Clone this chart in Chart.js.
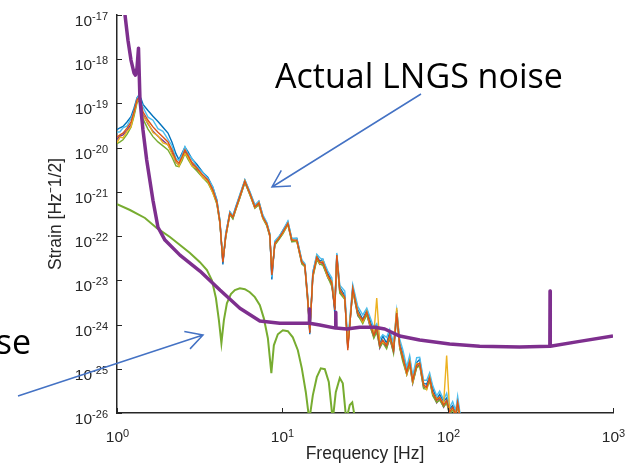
<!DOCTYPE html>
<html>
<head>
<meta charset="utf-8">
<script src="https://cdn.jsdelivr.net/npm/chart.js@4.4.0/dist/chart.umd.min.js"></script>
<style>
  html, body { margin: 0; padding: 0; background: #fff; }
  canvas { display: block; }
</style>
</head>
<body>
<canvas id="myChart" width="640" height="465"></canvas>
<script>
// decades shown on the axes
const xTickExps = [0, 1, 2, 3];
const yTickExps = [-26, -25, -24, -23, -22, -21, -20, -19, -18, -17];

// sensitivity curve (purple), frequency in Hz, log10 of strain
const sensFreq = [1.072, 1.118, 1.165, 1.215, 1.267, 1.294, 1.321, 1.349, 1.377, 1.436,
  1.512, 1.650, 1.769, 1.950, 2.403, 3.174, 4.193, 5.536, 7.311, 9.658,
  12.76, 14.50, 14.56, 14.62, 16.85, 20.98, 21.05, 21.12, 24.53, 29.39,
  36.22, 41.63, 51.29, 67.74, 102.8, 156.1, 272.3, 415.0, 416.2, 417.4,
  627.8, 1000];
const sensLog = [-16.43, -17.00, -17.57, -18.02, -18.31, -18.36, -18.20, -17.75, -18.92, -19.60,
  -20.28, -21.19, -21.80, -22.09, -22.43, -22.79, -23.22, -23.63, -23.92, -23.97,
  -23.97, -23.97, -23.65, -23.97, -24.01, -24.08, -23.72, -24.08, -24.10, -24.06,
  -24.06, -24.10, -24.26, -24.35, -24.44, -24.49, -24.51, -24.49, -23.24, -24.49,
  -24.38, -24.26];

// green curve
const nnFreq = [1.000, 1.198, 1.476, 1.745, 2.090, 2.403, 2.762, 3.174, 3.499, 3.750,
  3.965, 4.133, 4.280, 4.431, 4.620, 4.885, 5.164, 5.536, 5.935, 6.363,
  6.822, 7.311, 7.731, 8.176, 8.581, 8.885, 9.393, 10.07, 10.80, 11.57,
  12.41, 13.12, 13.87, 14.56, 15.29, 16.16, 17.09, 18.07, 19.10, 20.18,
  21.05, 22.26, 23.21, 24.36, 25.58, 26.48, 27.61];
const nnLog = [-21.28, -21.41, -21.59, -21.82, -22.02, -22.20, -22.38, -22.59, -22.77, -23.00,
  -23.40, -23.90, -24.42, -23.90, -23.52, -23.31, -23.22, -23.18, -23.20, -23.27,
  -23.38, -23.56, -23.86, -24.31, -25.10, -24.47, -24.22, -24.13, -24.15, -24.29,
  -24.58, -24.99, -25.53, -26.16, -25.60, -25.19, -24.99, -25.01, -25.30, -26.16,
  -25.53, -25.21, -25.33, -26.16, -25.82, -25.76, -26.16];

// measured LNGS noise runs, shared frequency grid
const lngsFreq = [1.000, 1.043, 1.087, 1.149, 1.215, 1.267, 1.321, 1.358, 1.397, 1.436,
  1.539, 1.650, 1.769, 1.896, 2.034, 2.148, 2.274, 2.370, 2.471, 2.576,
  2.685, 2.837, 3.044, 3.308, 3.547, 3.803, 4.020, 4.193, 4.370, 4.549,
  4.818, 5.022, 5.236, 5.536, 5.935, 6.363, 6.822, 7.211, 7.624, 8.059,
  8.403, 8.641, 9.010, 9.526, 10.07, 10.80, 11.41, 12.24, 13.12, 13.68,
  14.26, 14.66, 15.29, 16.16, 16.85, 17.57, 18.84, 19.91, 20.76, 21.35,
  22.26, 23.86, 24.88, 26.67, 28.59, 30.65, 32.42, 33.79, 35.77, 37.24,
  38.85, 40.49, 42.73, 44.63, 47.05, 49.19, 51.29, 53.48, 56.56, 58.90,
  61.44, 64.94, 67.74, 71.56, 74.66, 77.79, 81.19, 85.85, 89.47, 94.52,
  98.6, 102.8, 107.2, 111.8, 114.9, 119.5];

const runOrange = [-19.76, -19.71, -19.67, -19.56, -19.42, -19.19, -18.92, -18.86, -18.99, -19.19,
  -19.38, -19.53, -19.65, -19.76, -19.87, -20.05, -20.28, -20.35, -20.21, -20.05,
  -20.17, -20.33, -20.46, -20.62, -20.73, -20.96, -21.23, -21.68, -22.59, -21.98,
  -21.48, -21.57, -21.37, -21.10, -20.76, -21.03, -21.34, -21.25, -21.57, -21.73,
  -21.98, -22.88, -22.16, -22.05, -21.91, -21.71, -22.09, -22.09, -22.59, -22.66,
  -23.45, -24.19, -22.88, -22.48, -22.59, -22.59, -22.88, -23.06, -23.67, -22.43,
  -23.22, -23.38, -24.58, -23.18, -23.74, -23.90, -23.72, -23.95, -24.24, -24.08,
  -24.47, -24.35, -24.47, -24.24, -24.58, -23.74, -24.47, -24.74, -25.08, -24.85,
  -25.26, -24.92, -24.87, -25.37, -25.42, -25.21, -25.53, -25.71, -25.64, -25.82,
  -25.71, -25.98, -25.87, -26.05, -25.76, -26.16];
const runYellow = [-19.89, -19.76, -19.78, -19.63, -19.53, -19.23, -18.96, -18.91, -19.02, -19.29,
  -19.44, -19.66, -19.73, -19.89, -19.93, -20.15, -20.31, -20.42, -20.25, -20.13,
  -20.21, -20.41, -20.47, -20.68, -20.76, -21.03, -21.24, -21.69, -22.57, -22.00,
  -21.49, -21.56, -21.39, -21.11, -20.75, -21.05, -21.35, -21.24, -21.59, -21.74,
  -21.97, -22.83, -22.17, -22.04, -21.93, -21.72, -22.08, -22.11, -22.58, -22.67,
  -23.42, -24.13, -22.90, -22.47, -22.62, -22.57, -22.92, -23.03, -23.59, -22.45,
  -23.20, -23.41, -24.48, -23.20, -23.71, -23.94, -23.70, -23.98, -24.20, -23.40,
  -24.44, -24.40, -24.45, -24.27, -24.54, -23.62, -24.49, -24.71, -25.12, -24.83,
  -25.29, -24.88, -24.89, -25.34, -25.47, -25.19, -25.56, -25.67, -25.66, -25.79,
  -24.70, -25.96, -25.90, -26.01, -25.78, -26.13];
const runLightBlue = [-19.65, -19.64, -19.55, -19.51, -19.34, -19.18, -18.90, -18.81, -18.96, -19.08,
  -19.31, -19.38, -19.57, -19.63, -19.81, -19.95, -20.25, -20.28, -20.17, -19.98,
  -20.14, -20.24, -20.44, -20.56, -20.70, -20.89, -21.21, -21.64, -22.57, -21.93,
  -21.46, -21.53, -21.34, -21.06, -20.73, -20.99, -21.29, -21.22, -21.52, -21.69,
  -21.95, -22.93, -22.11, -22.01, -21.88, -21.66, -22.05, -22.06, -22.54, -22.62,
  -23.37, -24.14, -22.82, -22.41, -22.49, -22.53, -22.79, -22.94, -23.57, -22.38,
  -23.11, -23.24, -24.38, -23.10, -23.59, -23.78, -23.63, -23.81, -24.07, -23.98,
  -24.32, -24.23, -24.29, -24.11, -24.42, -23.68, -24.33, -24.56, -24.96, -24.70,
  -25.16, -24.75, -24.74, -25.26, -25.26, -25.09, -25.38, -25.61, -25.50, -25.70,
  -25.55, -25.87, -25.74, -25.95, -25.62, -26.08];
const runBlue = [-19.59, -19.55, -19.52, -19.42, -19.30, -19.11, -18.87, -18.81, -18.89, -19.02,
  -19.16, -19.29, -19.41, -19.54, -19.67, -19.87, -20.14, -20.27, -20.13, -19.99,
  -20.09, -20.25, -20.38, -20.56, -20.67, -20.90, -21.18, -21.65, -22.64, -21.95,
  -21.45, -21.55, -21.33, -21.07, -20.73, -21.01, -21.31, -21.21, -21.54, -21.71,
  -21.95, -22.98, -22.13, -22.02, -21.87, -21.68, -22.06, -22.05, -22.56, -22.64,
  -23.40, -24.22, -22.82, -22.44, -22.57, -22.52, -22.85, -23.01, -23.73, -22.41,
  -23.16, -23.34, -24.48, -23.15, -23.66, -23.88, -23.67, -23.88, -24.20, -24.02,
  -24.44, -24.26, -24.42, -24.16, -24.56, -23.67, -24.42, -24.64, -25.04, -24.76,
  -25.23, -24.86, -24.79, -25.33, -25.35, -25.16, -25.44, -25.68, -25.58, -25.74,
  -25.66, -25.91, -25.83, -25.99, -25.71, -26.13];
const runGreen = [-19.91, -19.87, -19.82, -19.70, -19.54, -19.29, -18.99, -18.92, -19.09, -19.35,
  -19.58, -19.75, -19.87, -19.96, -20.05, -20.21, -20.41, -20.43, -20.30, -20.13,
  -20.26, -20.41, -20.53, -20.68, -20.80, -21.02, -21.28, -21.72, -22.56, -22.02,
  -21.51, -21.61, -21.40, -21.14, -20.79, -21.07, -21.37, -21.29, -21.60, -21.77,
  -22.01, -22.84, -22.20, -22.08, -21.95, -21.74, -22.13, -22.12, -22.63, -22.69,
  -23.51, -24.15, -22.93, -22.54, -22.63, -22.66, -22.93, -23.14, -23.62, -22.49,
  -23.29, -23.43, -24.50, -23.24, -23.78, -23.98, -23.78, -24.00, -24.31, -24.17,
  -24.51, -24.41, -24.55, -24.29, -24.65, -23.78, -24.53, -24.83, -25.13, -24.92,
  -25.32, -24.98, -24.93, -25.45, -25.46, -25.27, -25.61, -25.76, -25.71, -25.86,
  -25.77, -26.04, -25.92, -26.12, -25.81, -26.23];
const runPurple = [-19.81, -19.74, -19.71, -19.61, -19.48, -19.24, -18.95, -18.88, -19.03, -19.25,
  -19.46, -19.63, -19.74, -19.84, -19.94, -20.11, -20.33, -20.39, -20.26, -20.09,
  -20.20, -20.38, -20.50, -20.67, -20.76, -21.00, -21.26, -21.70, -22.59, -22.01,
  -21.50, -21.60, -21.39, -21.13, -20.78, -21.06, -21.36, -21.28, -21.59, -21.76,
  -22.00, -22.86, -22.19, -22.07, -21.94, -21.73, -22.12, -22.11, -22.62, -22.68,
  -23.48, -24.17, -22.92, -22.50, -22.64, -22.62, -22.94, -23.08, -23.64, -22.47,
  -23.27, -23.41, -24.53, -23.22, -23.80, -23.93, -23.77, -24.02, -24.28, -24.10,
  -24.53, -24.38, -24.52, -24.32, -24.62, -23.76, -24.53, -24.77, -25.13, -24.89,
  -25.33, -24.95, -24.92, -25.43, -25.39, -25.26, -25.57, -25.77, -25.67, -25.87,
  -25.75, -26.04, -25.90, -26.10, -25.80, -26.22];

const axisColor = '#262626';
const tickFont = '"Liberation Sans", Arial, sans-serif';

function toPoints(freqs, logs) {
  return freqs.map((f, i) => ({ x: f, y: Math.pow(10, logs[i]) }));
}

function noiseRun(label, values, color) {
  return {
    label: label,
    data: toPoints(lngsFreq, values),
    borderColor: color,
    borderWidth: 1.4,
    pointRadius: 0,
    fill: false,
    clip: 0
  };
}

// 10 with a raised exponent
function drawPow(ctx, exp, x, y, align) {
  ctx.font = '15.5px ' + tickFont;
  const bw = ctx.measureText('10').width;
  ctx.font = '11px ' + tickFont;
  const ew = ctx.measureText(exp).width;
  const x0 = align === 'right' ? x - bw - ew : x - (bw + ew) / 2;
  ctx.textAlign = 'left';
  ctx.textBaseline = 'alphabetic';
  ctx.font = '15.5px ' + tickFont;
  ctx.fillText('10', x0, y);
  ctx.font = '11px ' + tickFont;
  ctx.fillText(exp, x0 + bw, y - 5.5);
}

function arrow(ctx, x1, y1, x2, y2) {
  const a = Math.atan2(y2 - y1, x2 - x1);
  const len = 19;
  ctx.beginPath();
  ctx.moveTo(x1, y1);
  ctx.lineTo(x2, y2);
  ctx.moveTo(x2 - len * Math.cos(a - 0.5), y2 - len * Math.sin(a - 0.5));
  ctx.lineTo(x2, y2);
  ctx.lineTo(x2 - len * Math.cos(a + 0.5), y2 - len * Math.sin(a + 0.5));
  ctx.stroke();
}

const decor = {
  id: 'decor',
  afterDraw(chart) {
    const { ctx, chartArea: area, scales: { x, y } } = chart;
    ctx.save();
    ctx.strokeStyle = axisColor;
    ctx.fillStyle = axisColor;
    ctx.lineWidth = 1;

    yTickExps.forEach(e => {
      const py = Math.round(y.getPixelForValue(Math.pow(10, e))) + 0.5;
      ctx.beginPath();
      ctx.moveTo(area.left, py);
      ctx.lineTo(area.left + 5, py);
      ctx.stroke();
      drawPow(ctx, String(e), area.left - 9, py + 10, 'right');
    });

    xTickExps.forEach(e => {
      const px = Math.round(x.getPixelForValue(Math.pow(10, e))) + 0.5;
      ctx.beginPath();
      ctx.moveTo(px, area.bottom);
      ctx.lineTo(px, area.bottom - 5);
      ctx.stroke();
      drawPow(ctx, String(e), px, 442, 'center');
    });

    // slide annotations
    ctx.fillStyle = '#000';
    ctx.font = '34px "Open Sans", sans-serif';
    ctx.textAlign = 'left';
    ctx.fillText('Actual LNGS noise', 275, 88);
    ctx.textAlign = 'right';
    ctx.fillText('se', 31, 354);

    ctx.strokeStyle = '#4472C4';
    ctx.lineWidth = 1.5;
    arrow(ctx, 421, 94, 272, 187);
    arrow(ctx, 18, 396, 203, 335);
    ctx.restore();
  }
};

const ctx = document.getElementById('myChart').getContext('2d');
const chart = new Chart(ctx, {
  type: 'line',
  data: {
    datasets: [
      {
        label: 'Sensitivity',
        data: toPoints(sensFreq, sensLog),
        borderColor: '#7E2F8E',
        borderWidth: 3.5,
        borderJoinStyle: 'round',
        pointRadius: 0,
        fill: false,
        clip: 0
      },
      {
        label: 'Newtonian noise',
        data: toPoints(nnFreq, nnLog),
        borderColor: '#77AC30',
        borderWidth: 2,
        pointRadius: 0,
        fill: false,
        clip: 0
      },
      noiseRun('Run 1', runOrange, '#D95319'),
      noiseRun('Run 2', runYellow, '#EDB120'),
      noiseRun('Run 3', runLightBlue, '#4DBEEE'),
      noiseRun('Run 4', runBlue, '#0072BD'),
      noiseRun('Run 5', runGreen, '#77AC30'),
      noiseRun('Run 6', runPurple, '#7E2F8E')
    ]
  },
  options: {
    responsive: false,
    animation: false,
    layout: { padding: { left: 0, right: 27, top: 15, bottom: 0 } },
    elements: { line: { tension: 0 } },
    plugins: {
      legend: { display: false },
      tooltip: { enabled: false }
    },
    scales: {
      x: {
        type: 'logarithmic',
        min: 1,
        max: 1000,
        grid: { display: false },
        border: { display: true, color: axisColor, width: 1.5 },
        ticks: { display: false },
        title: {
          display: true,
          text: 'Frequency [Hz]',
          color: axisColor,
          font: { family: tickFont, size: 17.5 },
          padding: { top: 0, bottom: 0 }
        },
        afterFit: scale => { scale.height = 52; }
      },
      y: {
        type: 'logarithmic',
        min: 1e-26,
        max: 1e-17,
        grid: { display: false },
        border: { display: true, color: axisColor, width: 1.5 },
        ticks: { display: false },
        title: {
          display: true,
          text: 'Strain [Hz\u207B1/2]',
          color: axisColor,
          font: { family: tickFont, size: 17.5 },
          padding: { top: 45.5, bottom: 0 }
        },
        afterFit: scale => { scale.width = 117; }
      }
    }
  },
  plugins: [decor]
});
</script>
</body>
</html>
